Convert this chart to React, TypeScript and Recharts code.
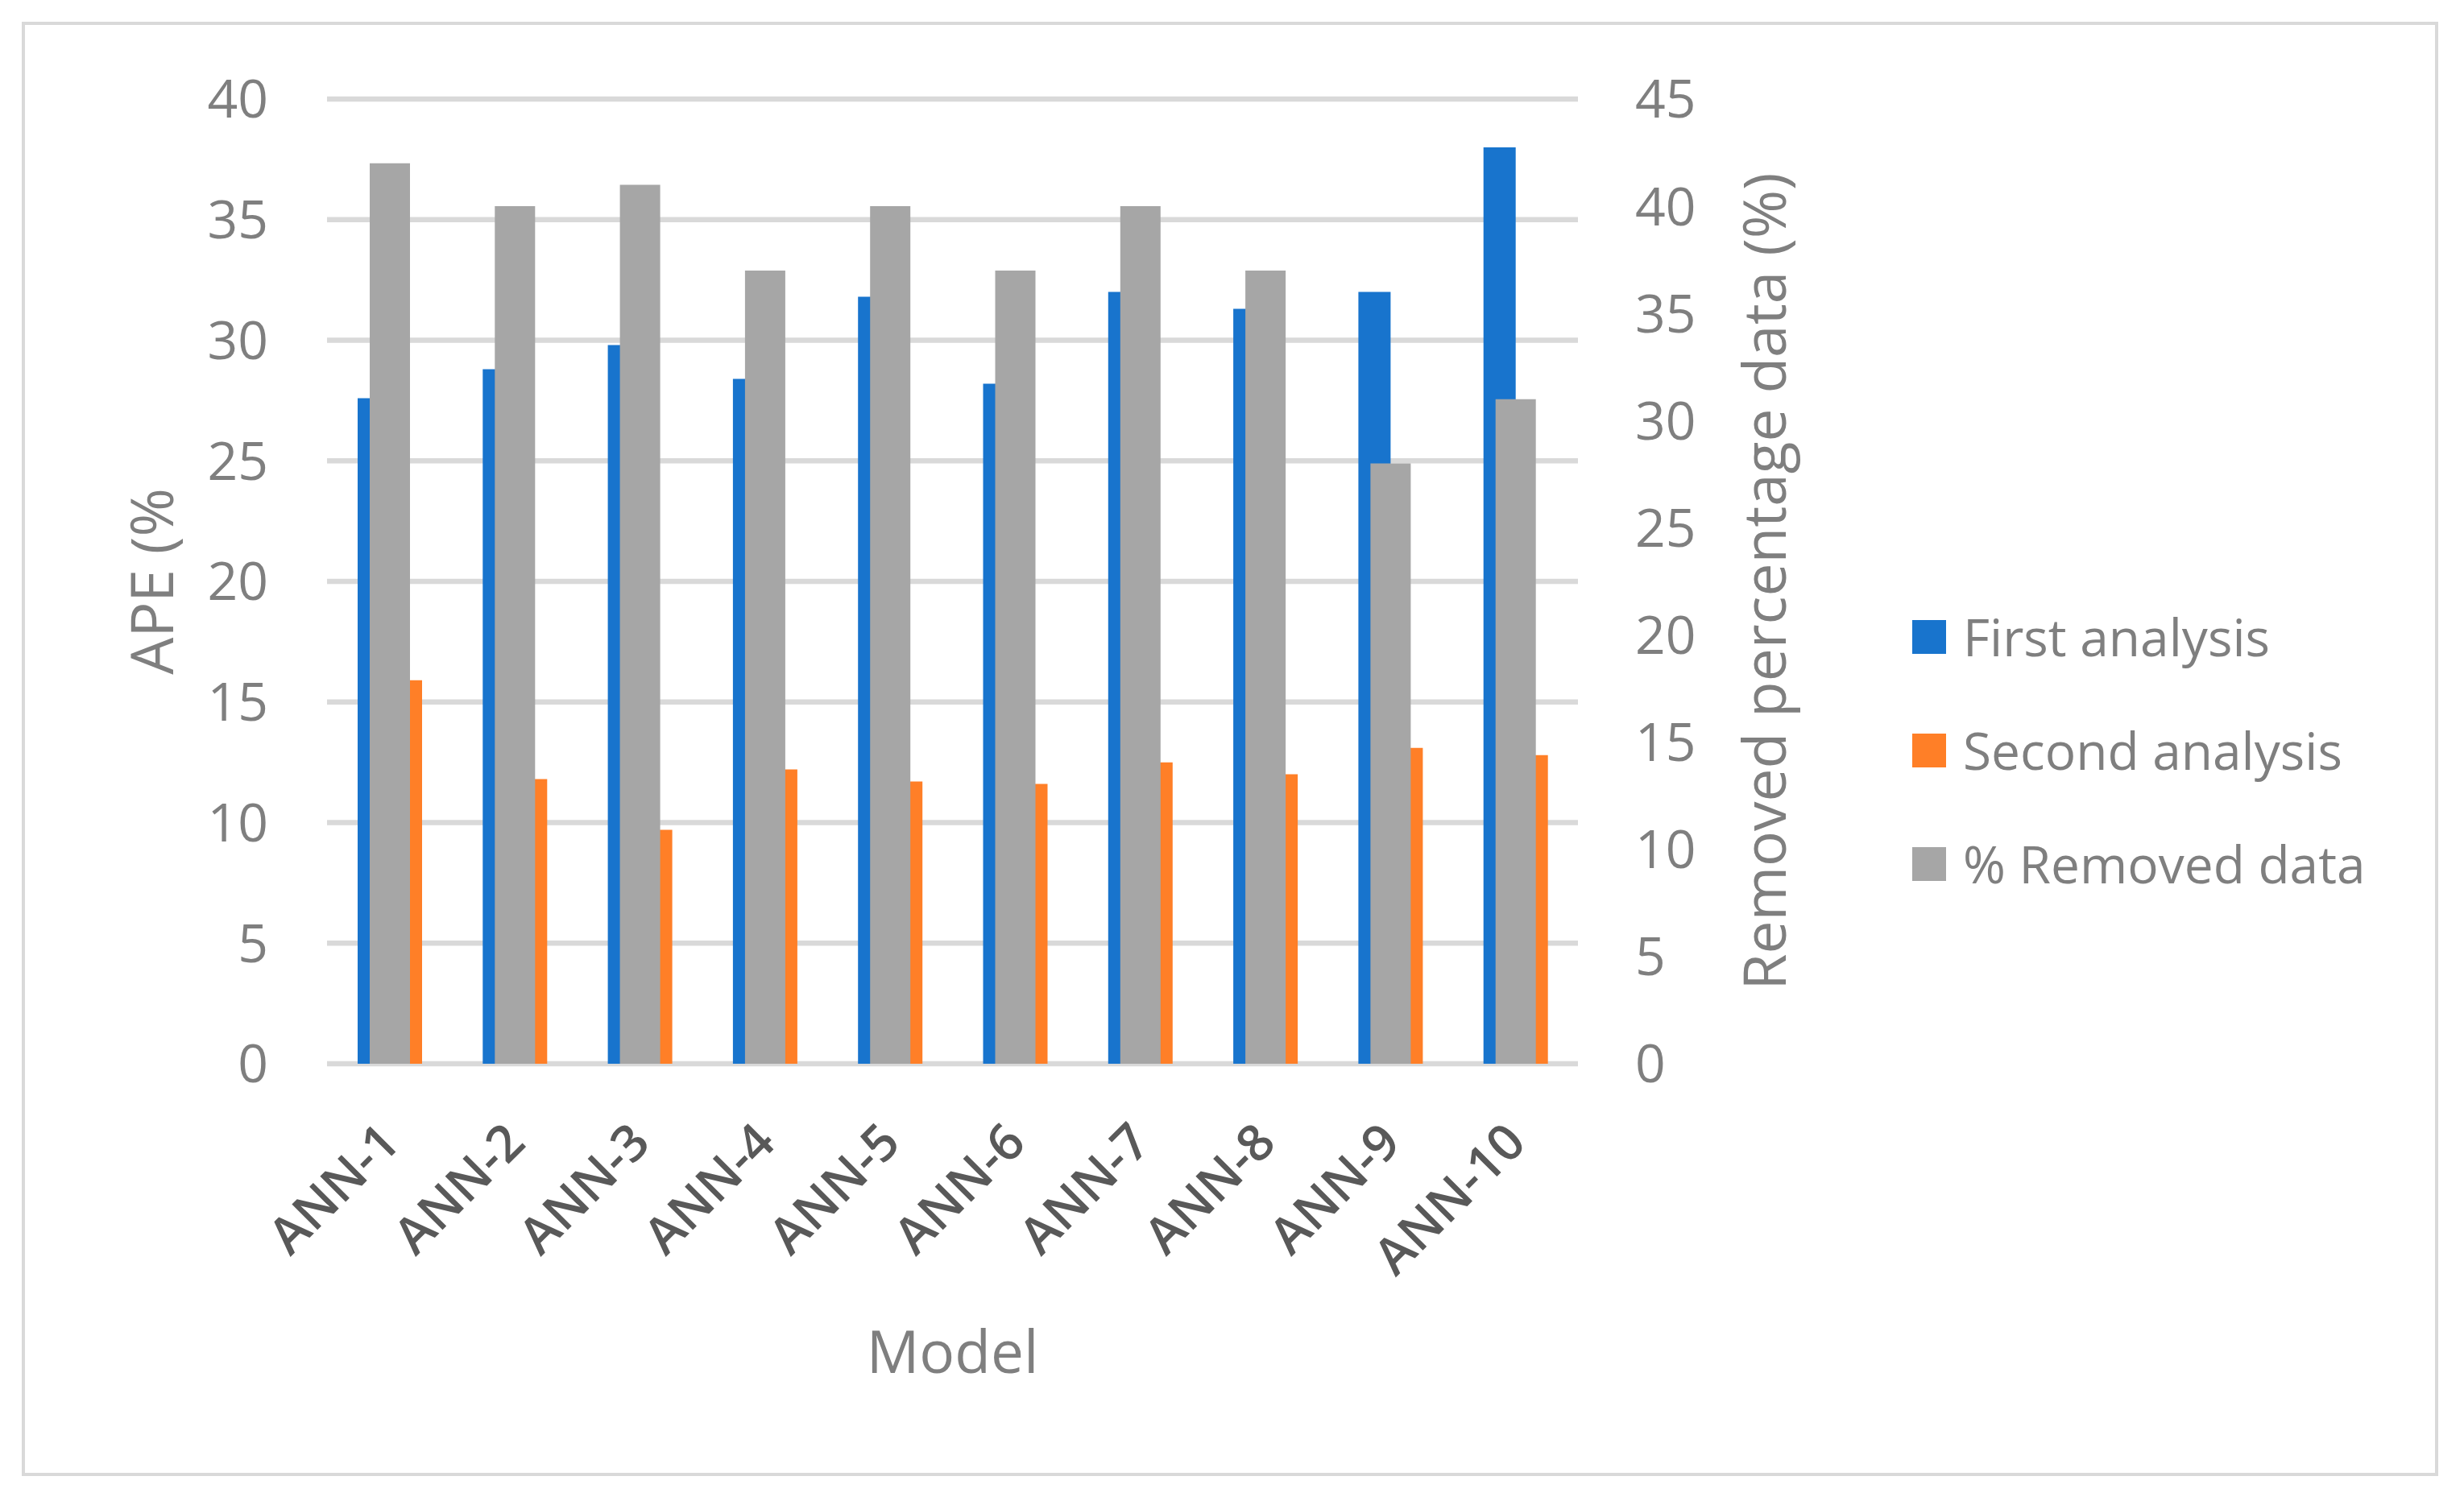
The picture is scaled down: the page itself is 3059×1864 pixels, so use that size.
import { BarChart, Bar, CartesianGrid, Legend, XAxis, YAxis } from 'recharts'

// ── Data ──────────────────────────────────────────────────────────────────────

const models = ['ANN-1', 'ANN-2', 'ANN-3', 'ANN-4', 'ANN-5', 'ANN-6', 'ANN-7', 'ANN-8', 'ANN-9', 'ANN-10']
const firstAnalysis = [27.6, 28.8, 29.8, 28.4, 31.8, 28.2, 32.0, 31.3, 32.0, 38.0]
const secondAnalysis = [15.9, 11.8, 9.7, 12.2, 11.7, 11.6, 12.5, 12.0, 13.1, 12.8]
const removedData = [42, 40, 41, 37, 40, 37, 40, 37, 28, 31]
const apeTicks = [0, 5, 10, 15, 20, 25, 30, 35, 40]
const removedTicks = [0, 5, 10, 15, 20, 25, 30, 35, 40, 45]
const seriesNames = ['First analysis', 'Second analysis', '% Removed data']

const data = models.map((name, i) => ({
  name,
  first: firstAnalysis[i],
  second: secondAnalysis[i],
  removed: removedData[i],
}))

// ── Style ─────────────────────────────────────────────────────────────────────

const FONT = '"Open Sans", "Noto Sans", sans-serif'
const BLUE = '#1874cd'
const ORANGE = '#ff7f27'
const GRAY = '#a6a6a6'
const TEXT = '#7f7f7f'

const W = 3059
const H = 1864
const PLOT_LEFT = 406
const PLOT_RIGHT = 1959
const PLOT_TOP = 123
const PLOT_BOTTOM = 1321
const AXIS_W = 150
const XAXIS_H = 150

function ModelTick(props: any) {
  const { x, y, payload } = props
  return (
    <text
      x={0}
      y={0}
      transform={`translate(${x + 16},${y + 101}) rotate(-45)`}
      textAnchor="end"
      fill="#595959"
      fontSize={63}
      fontWeight={600}
      fontFamily={FONT}
    >
      {payload.value}
    </text>
  )
}

function LegendBox({ payload }: any) {
  const items = [...(payload || [])].sort(
    (a: any, b: any) => seriesNames.indexOf(a.value) - seriesNames.indexOf(b.value),
  )
  return (
    <div style={{ fontFamily: FONT }}>
      {items.map((item: any) => (
        <div key={item.value} style={{ display: 'flex', alignItems: 'center', height: 141 }}>
          <div style={{ width: 42, height: 42, background: item.color, marginRight: 21 }} />
          <span style={{ fontSize: 64, color: TEXT, whiteSpace: 'nowrap' }}>{item.value}</span>
        </div>
      ))}
    </div>
  )
}

export default function App() {
  return (
    <div style={{ position: 'absolute', left: 0, top: 0, width: W, height: H, background: '#fff' }}>
      <div
        style={{
          position: 'absolute',
          left: 27,
          top: 27,
          width: 3000,
          height: 1806,
          border: '4px solid #d9d9d9',
          boxSizing: 'border-box',
        }}
      />
      <BarChart
        width={W}
        height={H}
        data={data}
        barGap={0}
        margin={{
          top: PLOT_TOP,
          left: PLOT_LEFT - AXIS_W,
          right: W - PLOT_RIGHT - AXIS_W,
          bottom: H - PLOT_BOTTOM - XAXIS_H,
        }}
      >
        <CartesianGrid
          vertical={false}
          stroke="#d9d9d9"
          strokeWidth={6.5}
          xAxisId="main"
          yAxisId="left"
        />
        <XAxis
          xAxisId="main"
          dataKey="name"
          height={XAXIS_H}
          axisLine={false}
          tickLine={false}
          tickSize={0}
          tickMargin={0}
          interval={0}
          tick={<ModelTick />}
          label={{
            content: () => (
              <text
                x={(PLOT_LEFT + PLOT_RIGHT) / 2}
                y={1705}
                textAnchor="middle"
                fill={TEXT}
                fontSize={73}
                fontFamily={FONT}
              >
                Model
              </text>
            ),
          }}
        />
        <XAxis xAxisId="sec" dataKey="name" hide />
        <YAxis
          yAxisId="left"
          width={AXIS_W}
          domain={[0, 40]}
          ticks={apeTicks}
          axisLine={false}
          tickLine={false}
          tickSize={0}
          tickMargin={73}
          tick={{ fill: TEXT, fontSize: 66, fontFamily: FONT }}
          label={{
            content: () => (
              <text
                x={186}
                y={722}
                transform="rotate(-90 186 722)"
                textAnchor="middle"
                dominantBaseline="central"
                fill={TEXT}
                fontSize={73}
                fontFamily={FONT}
              >
                APE (%
              </text>
            ),
          }}
        />
        <YAxis
          yAxisId="right"
          orientation="right"
          width={AXIS_W}
          domain={[0, 45]}
          ticks={removedTicks}
          axisLine={false}
          tickLine={false}
          tickSize={0}
          tickMargin={71}
          tick={{ fill: TEXT, fontSize: 66, fontFamily: FONT }}
          label={{
            content: () => (
              <text
                x={2188}
                y={722}
                transform="rotate(-90 2188 722)"
                textAnchor="middle"
                dominantBaseline="central"
                fill={TEXT}
                fontSize={73}
                fontFamily={FONT}
              >
                Removed percentage data (%)
              </text>
            ),
          }}
        />
        <Legend
          layout="vertical"
          align="center"
          verticalAlign="middle"
          itemSorter={null}
          content={<LegendBox />}
          wrapperStyle={{ left: 2374, top: 720, width: 'auto' }}
        />
        <Bar
          dataKey="first"
          name="First analysis"
          fill={BLUE}
          xAxisId="main"
          yAxisId="left"
          barSize={40}
          isAnimationActive={false}
        />
        <Bar
          dataKey="second"
          name="Second analysis"
          fill={ORANGE}
          xAxisId="main"
          yAxisId="left"
          barSize={40}
          isAnimationActive={false}
        />
        <Bar
          dataKey="removed"
          name="% Removed data"
          fill={GRAY}
          xAxisId="sec"
          yAxisId="right"
          barSize={50}
          isAnimationActive={false}
        />
      </BarChart>
    </div>
  )
}
